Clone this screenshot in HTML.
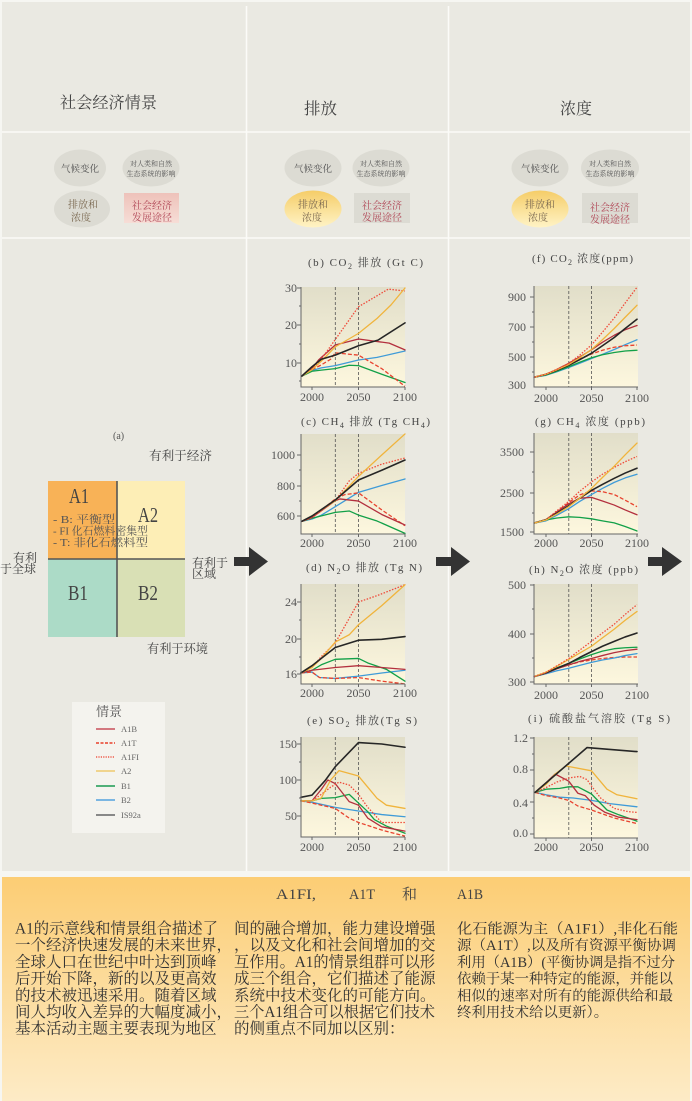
<!DOCTYPE html>
<html><head><meta charset="utf-8">
<style>
html,body{margin:0;padding:0;width:692px;height:1101px;overflow:hidden;background:#f6f6f2}
svg{display:block}
text{font-family:"Liberation Serif","Noto Serif CJK SC",serif}
.s{fill:none;vector-effect:non-scaling-stroke;stroke-width:1.3;stroke-linejoin:round;stroke-linecap:round}
.a1b{stroke:#b3303e}
.a1t{stroke:#e8432f;stroke-dasharray:4 2;stroke-linecap:butt}
.a1fi{stroke:#ef4a3a;stroke-dasharray:1.5 1.5;stroke-linecap:butt}
.a2{stroke:#f0b43c}
.b1{stroke:#12a048}
.b2{stroke:#3f9bd8}
.is{stroke:#262626;stroke-width:1.6}
.tl{font-size:12px;fill:#555}
.tt{font-size:11px;fill:#444}
.ax{stroke:#666;stroke-width:1;fill:none}
.dl{stroke:#555;stroke-width:0.8;stroke-dasharray:3 2}
.bt{font-size:15.5px;fill:#333}
</style></head>
<body>
<svg width="692" height="1101" viewBox="0 0 692 1101" xmlns="http://www.w3.org/2000/svg">
<defs>
<linearGradient id="pg" x1="0" y1="0" x2="0" y2="1"><stop offset="0" stop-color="#e1dec9"/><stop offset="1" stop-color="#fdf7de"/></linearGradient>
<linearGradient id="yg" x1="0" y1="0" x2="0" y2="1"><stop offset="0" stop-color="#f5cd68"/><stop offset="1" stop-color="#fff3c6"/></linearGradient>
<linearGradient id="pk" x1="0" y1="0" x2="0" y2="1"><stop offset="0" stop-color="#eec2ba"/><stop offset="1" stop-color="#f6ddd6"/></linearGradient>
<linearGradient id="og" x1="0" y1="0" x2="0" y2="1"><stop offset="0" stop-color="#fccd74"/><stop offset="1" stop-color="#fdebc6"/></linearGradient>
</defs>

<rect x="2" y="2" width="688" height="869" fill="#eae9e2"/>
<g stroke="#fbfbf8" stroke-width="1.6">
<line x1="246.5" y1="6" x2="246.5" y2="871"/>
<line x1="448.5" y1="6" x2="448.5" y2="871"/>
<line x1="2" y1="132" x2="690" y2="132"/>
<line x1="2" y1="238" x2="690" y2="238"/>
</g>

<text x="60" y="108" font-size="16" fill="#444" textLength="97" lengthAdjust="spacingAndGlyphs">社会经济情景</text>
<text x="304" y="114" font-size="16" fill="#444" textLength="33" lengthAdjust="spacingAndGlyphs">排放</text>
<text x="560" y="114" font-size="16" fill="#444" textLength="32" lengthAdjust="spacingAndGlyphs">浓度</text>

<g>
<ellipse cx="80" cy="168" rx="26" ry="18.5" fill="#dcdbd3"/>
<text x="80" y="172" font-size="9.5" fill="#555" text-anchor="middle">气候变化</text>
<ellipse cx="151" cy="168" rx="28.5" ry="18.5" fill="#dcdbd3"/>
<text x="151" y="166" font-size="7" fill="#555" text-anchor="middle">对人类和自然</text>
<text x="151" y="176" font-size="7" fill="#555" text-anchor="middle">生态系统的影响</text>
<ellipse cx="82" cy="209" rx="28" ry="18.5" fill="#dcdbd3"/>
<text x="83" y="208" font-size="10" fill="#7a6850" text-anchor="middle">排放和</text>
<text x="81" y="221" font-size="10" fill="#7a6850" text-anchor="middle">浓度</text>
<rect x="124" y="193" width="55" height="30" fill="url(#pk)"/>
<text x="152" y="209" font-size="10" fill="#b04555" text-anchor="middle">社会经济</text>
<text x="152" y="221" font-size="10" fill="#b04555" text-anchor="middle">发展途径</text>
</g>
<g>
<ellipse cx="313" cy="168" rx="28.5" ry="18.5" fill="#dcdbd3"/>
<text x="313" y="172" font-size="9.5" fill="#555" text-anchor="middle">气候变化</text>
<ellipse cx="381" cy="168" rx="28.5" ry="18.5" fill="#dcdbd3"/>
<text x="381" y="166" font-size="7" fill="#555" text-anchor="middle">对人类和自然</text>
<text x="381" y="176" font-size="7" fill="#555" text-anchor="middle">生态系统的影响</text>
<ellipse cx="313" cy="209" rx="28.5" ry="18.5" fill="url(#yg)"/>
<text x="313" y="208" font-size="10" fill="#7a6850" text-anchor="middle">排放和</text>
<text x="312" y="221" font-size="10" fill="#7a6850" text-anchor="middle">浓度</text>
<rect x="354" y="193" width="56" height="30" fill="#dcdbd3"/>
<text x="382" y="209" font-size="10" fill="#b04555" text-anchor="middle">社会经济</text>
<text x="382" y="221" font-size="10" fill="#b04555" text-anchor="middle">发展途径</text>
</g>
<g>
<ellipse cx="540" cy="168" rx="28.5" ry="18.5" fill="#dcdbd3"/>
<text x="540" y="172" font-size="9.5" fill="#555" text-anchor="middle">气候变化</text>
<ellipse cx="610" cy="168" rx="29" ry="18.5" fill="#dcdbd3"/>
<text x="610" y="166" font-size="7" fill="#555" text-anchor="middle">对人类和自然</text>
<text x="610" y="176" font-size="7" fill="#555" text-anchor="middle">生态系统的影响</text>
<ellipse cx="540" cy="209" rx="28.5" ry="18.5" fill="url(#yg)"/>
<text x="540" y="208" font-size="10" fill="#7a6850" text-anchor="middle">排放和</text>
<text x="538" y="221" font-size="10" fill="#7a6850" text-anchor="middle">浓度</text>
<rect x="582" y="193" width="56" height="30" fill="#dcdbd3"/>
<text x="610" y="211" font-size="10" fill="#b04555" text-anchor="middle">社会经济</text>
<text x="610" y="223" font-size="10" fill="#b04555" text-anchor="middle">发展途径</text>
</g>

<text x="113" y="439" font-size="10" fill="#555">(a)</text>
<text x="149" y="460" font-size="12.5" fill="#444" textLength="63" lengthAdjust="spacingAndGlyphs">有利于经济</text>
<rect x="48" y="481" width="69" height="78" fill="#f8b257"/>
<rect x="117" y="481" width="68" height="78" fill="#fdeeb6"/>
<rect x="48" y="559" width="69" height="78" fill="#acdbc7"/>
<rect x="117" y="559" width="68" height="78" fill="#d9e0b5"/>
<line x1="117" y1="481" x2="117" y2="637" stroke="#555" stroke-width="1.6"/>
<line x1="48" y1="559" x2="185" y2="559" stroke="#555" stroke-width="1.6"/>
<text x="69" y="503" font-size="21" fill="#444" textLength="20" lengthAdjust="spacingAndGlyphs">A1</text>
<text x="138" y="522" font-size="21" fill="#444" textLength="20" lengthAdjust="spacingAndGlyphs">A2</text>
<text x="68" y="600" font-size="21" fill="#444" textLength="20" lengthAdjust="spacingAndGlyphs">B1</text>
<text x="138" y="600" font-size="21" fill="#444" textLength="20" lengthAdjust="spacingAndGlyphs">B2</text>
<text x="53" y="523" font-size="11" fill="#555" textLength="62" lengthAdjust="spacingAndGlyphs">- B:  平衡型</text>
<text x="53" y="534.5" font-size="11" fill="#555" textLength="95" lengthAdjust="spacingAndGlyphs">- FI  化石燃料密集型</text>
<text x="53" y="546" font-size="11" fill="#555" textLength="95" lengthAdjust="spacingAndGlyphs">- T:  非化石燃料型</text>
<text x="13" y="562" font-size="12" fill="#444">有利</text>
<text x="0" y="573" font-size="12" fill="#444">于全球</text>
<text x="192" y="567" font-size="12" fill="#444">有利于</text>
<text x="192" y="578" font-size="12" fill="#444">区域</text>
<text x="147" y="653" font-size="12.5" fill="#444" textLength="61" lengthAdjust="spacingAndGlyphs">有利于环境</text>

<rect x="72" y="702" width="93" height="131" fill="#f4f3ee"/>
<text x="96" y="716" font-size="13" fill="#555">情景</text>
<g stroke-width="1.4">
<line x1="96" y1="729" x2="115" y2="729" stroke="#c8505a"/>
<line x1="96" y1="743" x2="115" y2="743" stroke="#e8402a" stroke-dasharray="3 1.5"/>
<line x1="96" y1="757" x2="115" y2="757" stroke="#ee5a4a" stroke-dasharray="1.2 1.2"/>
<line x1="96" y1="771" x2="115" y2="771" stroke="#f0d080" stroke-width="1.8"/>
<line x1="96" y1="786" x2="115" y2="786" stroke="#1a9a50"/>
<line x1="96" y1="800" x2="115" y2="800" stroke="#6aaee0" stroke-width="1.8"/>
<line x1="96" y1="815" x2="115" y2="815" stroke="#888" stroke-width="2"/>
</g>
<g font-size="8.5" fill="#666">
<text x="121" y="732">A1B</text>
<text x="121" y="746">A1T</text>
<text x="121" y="760">A1FI</text>
<text x="121" y="774">A2</text>
<text x="121" y="789">B1</text>
<text x="121" y="803">B2</text>
<text x="121" y="818">IS92a</text>
</g>

<g fill="#333">
<polygon points="234,557 249,557 249,547 268,561.5 249,576 249,566 234,566"/>
<polygon points="436,557 451,557 451,547 470,561.5 451,576 451,566 436,566"/>
<polygon points="648,557 662,557 662,547 682,561.5 662,576 662,566 648,566"/>
</g>

<!-- Chart b -->
<text class="tt" x="308" y="266" textLength="115" lengthAdjust="spacing">(b) CO<tspan font-size="8" dy="3">2</tspan><tspan dy="-3"> 排放 (Gt C)</tspan></text>
<rect x="301" y="287" width="104" height="100" fill="url(#pg)"/>
<line class="dl" x1="335.3" y1="287" x2="335.3" y2="387"/>
<line class="dl" x1="358.5" y1="287" x2="358.5" y2="387"/>
<g transform="translate(312,400.5) scale(0.93,-3.75)">
<polyline class="s b2" points="-11,6.5 0,8 10,8.7 25,9.3 50,10.8 70,11.5 100,13.2"/>
<polyline class="s b1" points="-11,6.5 0,7.8 10,8.1 25,8.5 40,9.4 50,9.3 75,7 100,4.8"/>
<polyline class="s a1t" points="-11,6.5 0,8.2 10,9.5 20,11 25,12.7 50,12.1 75,8.5 100,3.8"/>
<polyline class="s a1b" points="-11,6.5 0,8.5 7,10.8 25,14.8 50,16.4 83,15.3 100,13.5"/>
<polyline class="s a1fi" points="-11,6.5 0,8.5 10,11 20,14.5 30,18 50,25 82,29.7 100,29.2"/>
<polyline class="s a2" points="-11,6.5 0,8.2 10,10.5 25,14.3 50,17.9 70,21.9 85,25.5 100,30"/>
<polyline class="s is" points="-11,6.5 0,9 10,11 25,12.1 50,14.6 71,16.1 100,20.7"/>
</g>
<path class="ax" d="M301,287V387H405"/>
<path class="ax" d="M297,288h4M297,325h4M297,363h4M299,306h2M299,344h2M299,381h2M312,387v3M358.5,387v3M405,387v3"/>
<g class="tl" text-anchor="end"><text x="297" y="292">30</text><text x="297" y="329">20</text><text x="297" y="367">10</text></g>
<g class="tl" text-anchor="middle"><text x="312" y="401">2000</text><text x="358.5" y="401">2050</text><text x="405" y="401">2100</text></g>

<!-- Chart c -->
<text class="tt" x="301" y="425" textLength="129" lengthAdjust="spacing">(c) CH<tspan font-size="8" dy="3">4</tspan><tspan dy="-3"> 排放 (Tg CH</tspan><tspan font-size="8" dy="3">4</tspan><tspan dy="-3">)</tspan></text>
<rect x="301" y="434" width="104" height="100" fill="url(#pg)"/>
<line class="dl" x1="335.3" y1="434" x2="335.3" y2="534"/>
<line class="dl" x1="358.5" y1="434" x2="358.5" y2="534"/>
<g transform="translate(312,607.5) scale(0.93,-0.1525)">
<polyline class="s b2" points="-11,565 0,580 10,605 25,661 50,755 75,800 100,843"/>
<polyline class="s b1" points="-11,565 0,585 25,624 40,633 50,606 70,567 100,486"/>
<polyline class="s a1t" points="-11,565 0,590 25,711 35,740 50,752 75,640 100,536"/>
<polyline class="s a1b" points="-11,565 0,590 25,700 30,712 50,698 75,610 100,541"/>
<polyline class="s a1fi" points="-11,565 0,590 25,700 40,830 50,880 75,940 100,980"/>
<polyline class="s a2" points="-11,565 0,600 25,700 50,860 75,1000 100,1138"/>
<polyline class="s is" points="-11,565 0,600 25,705 50,836 75,900 100,967"/>
</g>
<path class="ax" d="M301,434V534H405"/>
<path class="ax" d="M297,455h4M297,486h4M297,516h4M299,470h2M299,501h2M312,534v3M358.5,534v3M405,534v3"/>
<g class="tl" text-anchor="end"><text x="295" y="459">1000</text><text x="295" y="490">800</text><text x="295" y="520">600</text></g>
<g class="tl" text-anchor="middle"><text x="312" y="547">2000</text><text x="358.5" y="547">2050</text><text x="405" y="547">2100</text></g>

<!-- Chart d -->
<text class="tt" x="306" y="571" textLength="116" lengthAdjust="spacing">(d) N<tspan font-size="8" dy="3">2</tspan><tspan dy="-3">O 排放 (Tg N)</tspan></text>
<rect x="301" y="584" width="104" height="100" fill="url(#pg)"/>
<line class="dl" x1="335.3" y1="584" x2="335.3" y2="684"/>
<line class="dl" x1="358.5" y1="584" x2="358.5" y2="684"/>
<g transform="translate(312,820.4) scale(0.93,-9.1)">
<polyline class="s b2" points="-12,16.2 0,16.3 8,15.7 25,15.6 50,15.85 75,16.2 100,16.5"/>
<polyline class="s b1" points="-12,16.2 0,16.5 10,17.1 25,17.7 50,17.8 60,17.3 80,16.6 100,15.3"/>
<polyline class="s a1t" points="-12,16.2 0,16.3 8,15.7 25,15.6 50,15.7 75,15.3 100,15.0"/>
<polyline class="s a1b" points="-12,16.2 0,16.5 25,16.8 50,17 75,16.8 100,16.6"/>
<polyline class="s a1fi" points="-12,16.2 0,16.8 10,18 25,19.5 50,24 70,24.7 100,25.9"/>
<polyline class="s a2" points="-12,16.2 0,16.8 10,17.8 25,19.6 40,20.4 50,21.5 75,23.6 100,25.9"/>
<polyline class="s is" points="-12,16.2 0,17 10,17.8 25,19 50,19.8 75,19.9 100,20.2"/>
</g>
<path class="ax" d="M301,584V684H405"/>
<path class="ax" d="M297,602h4M297,639h4M297,674h4M299,620h2M299,657h2M312,684v3M358.5,684v3M405,684v3"/>
<g class="tl" text-anchor="end"><text x="297" y="606">24</text><text x="297" y="643">20</text><text x="297" y="678">16</text></g>
<g class="tl" text-anchor="middle"><text x="312" y="697">2000</text><text x="358.5" y="697">2050</text><text x="405" y="697">2100</text></g>

<!-- Chart e -->
<text class="tt" x="307" y="724" textLength="110" lengthAdjust="spacing">(e) SO<tspan font-size="8" dy="3">2</tspan><tspan dy="-3"> 排放(Tg S)</tspan></text>
<rect x="301" y="737" width="104" height="100" fill="url(#pg)"/>
<line class="dl" x1="335.3" y1="737" x2="335.3" y2="837"/>
<line class="dl" x1="358.5" y1="737" x2="358.5" y2="837"/>
<g transform="translate(312,852) scale(0.93,-0.72)">
<polyline class="s b2" points="-12,71 0,69 25,62 50,57 75,52 100,49"/>
<polyline class="s b1" points="-12,71 0,71 10,74.5 25,75.5 40,80 50,68 60,56 67,45 80,36 100,26"/>
<polyline class="s a1t" points="-12,71 0,68 10,65 25,60.5 40,47 50,41 75,30.5 100,22"/>
<polyline class="s a1b" points="-12,71 0,71 10,87 17,100 25,95 40,70 50,65 60,47 75,35 100,29"/>
<polyline class="s a1fi" points="-12,71 0,71 10,80 20,90 29,97 40,93 50,80 60,62 75,41 100,41"/>
<polyline class="s a2" points="-12,71 0,71 10,75 20,100 29,113 50,105.5 60,90 70,74.5 80,65 100,60.5"/>
<polyline class="s is" points="-12,76 0,79 14,99 25,118.5 50,152 75,150 100,145.5"/>
</g>
<path class="ax" d="M301,737V837H405"/>
<path class="ax" d="M297,744h4M297,780h4M297,816h4M299,762h2M299,798h2M312,837v3M358.5,837v3M405,837v3"/>
<g class="tl" text-anchor="end"><text x="297" y="748">150</text><text x="297" y="784">100</text><text x="297" y="820">50</text></g>
<g class="tl" text-anchor="middle"><text x="312" y="851">2000</text><text x="358.5" y="851">2050</text><text x="405" y="851">2100</text></g>

<!-- Chart f -->
<text class="tt" x="532" y="262" textLength="101" lengthAdjust="spacing">(f) CO<tspan font-size="8" dy="3">2</tspan><tspan dy="-3"> 浓度(ppm)</tspan></text>
<rect x="534" y="286" width="104" height="101" fill="url(#pg)"/>
<line class="dl" x1="568.8" y1="286" x2="568.8" y2="387"/>
<line class="dl" x1="591.5" y1="286" x2="591.5" y2="387"/>
<g transform="translate(546,432) scale(0.91,-0.15)">
<polyline class="s b2" points="-13,365 0,378 12,402 25,430 37,458 50,490 62,518 75,550 87,582 100,615"/>
<polyline class="s b1" points="-13,365 0,380 12,405 25,435 37,465 50,495 62,515 75,530 87,540 100,545"/>
<polyline class="s a1t" points="-13,365 0,385 12,415 25,450 37,487 50,520 62,545 75,565 87,575 100,580"/>
<polyline class="s a1b" points="-13,365 0,385 12,418 25,458 37,500 50,548 62,598 75,645 87,682 100,710"/>
<polyline class="s is" points="-13,365 0,385 12,412 25,445 37,482 50,525 62,575 75,630 87,690 100,752"/>
<polyline class="s a2" points="-13,365 0,385 12,415 25,450 37,495 50,550 62,615 75,690 87,765 100,845"/>
<polyline class="s a1fi" points="-13,365 0,385 12,418 25,458 37,512 50,580 62,665 75,760 87,860 100,965"/>
</g>
<path class="ax" d="M534,286V387H638"/>
<path class="ax" d="M530,297h4M530,327h4M530,357h4M532,312h2M532,342h2M532,372h2M546,387v3M591.5,387v3M637,387v3"/>
<g class="tl" text-anchor="end"><text x="526" y="301">900</text><text x="526" y="331">700</text><text x="526" y="361">500</text><text x="526" y="389">300</text></g>
<g class="tl" text-anchor="middle"><text x="546" y="402">2000</text><text x="591.5" y="402">2050</text><text x="637" y="402">2100</text></g>

<!-- Chart g -->
<text class="tt" x="535" y="425" textLength="110" lengthAdjust="spacing">(g) CH<tspan font-size="8" dy="3">4</tspan><tspan dy="-3"> 浓度 (ppb)</tspan></text>
<rect x="534" y="433" width="104" height="101" fill="url(#pg)"/>
<line class="dl" x1="568.8" y1="433" x2="568.8" y2="534"/>
<line class="dl" x1="591.5" y1="433" x2="591.5" y2="534"/>
<g transform="translate(546,593.75) scale(0.91,-0.0405)">
<polyline class="s b2" points="-13,1745 0,1800 12,1940 25,2100 37,2280 50,2450 62,2600 75,2750 87,2860 100,2950"/>
<polyline class="s b1" points="-13,1745 0,1820 12,1870 25,1900 37,1885 50,1850 62,1800 75,1750 87,1660 100,1550"/>
<polyline class="s a1t" points="-13,1745 0,1830 12,2030 25,2250 37,2440 50,2540 62,2520 75,2450 87,2310 100,2150"/>
<polyline class="s a1b" points="-13,1745 0,1830 12,2020 25,2220 37,2360 50,2380 62,2290 75,2190 87,2070 100,1950"/>
<polyline class="s is" points="-13,1745 0,1830 12,1990 25,2170 37,2360 50,2550 62,2700 75,2850 87,2980 100,3100"/>
<polyline class="s a1fi" points="-13,1745 0,1830 12,2050 25,2280 37,2530 50,2760 62,2950 75,3120 87,3260 100,3390"/>
<polyline class="s a2" points="-13,1745 0,1820 12,1970 25,2150 37,2360 50,2600 62,2870 75,3150 87,3430 100,3720"/>
</g>
<path class="ax" d="M534,433V534H638"/>
<path class="ax" d="M530,452h4M530,493h4M530,532h4M532,472h2M532,513h2M546,534v3M591.5,534v3M637,534v3"/>
<g class="tl" text-anchor="end"><text x="524" y="456">3500</text><text x="524" y="497">2500</text><text x="524" y="536">1500</text></g>
<g class="tl" text-anchor="middle"><text x="546" y="547">2000</text><text x="591.5" y="547">2050</text><text x="637" y="547">2100</text></g>

<!-- Chart h -->
<text class="tt" x="529" y="573" textLength="109" lengthAdjust="spacing">(h) N<tspan font-size="8" dy="3">2</tspan><tspan dy="-3">O 浓度 (ppb)</tspan></text>
<rect x="534" y="584" width="104" height="100" fill="url(#pg)"/>
<line class="dl" x1="568.8" y1="584" x2="568.8" y2="684"/>
<line class="dl" x1="591.5" y1="584" x2="591.5" y2="684"/>
<g transform="translate(546,830) scale(0.91,-0.49)">
<polyline class="s a1t" points="-13,313 0,321 12,330 25,337 37,343 50,347 62,350 75,352 87,353 100,353"/>
<polyline class="s b2" points="-13,313 0,319 12,325 25,330 37,336 50,342 62,347 75,351 87,356 100,360"/>
<polyline class="s a1b" points="-13,313 0,320 12,329 25,337 37,344 50,350 62,356 75,362 87,366 100,369"/>
<polyline class="s b1" points="-13,313 0,321 12,331 25,340 37,349 50,358 62,365 75,370 87,372 100,373"/>
<polyline class="s is" points="-13,313 0,321 12,330 25,340 37,352 50,364 62,375 75,385 87,394 100,402"/>
<polyline class="s a2" points="-13,313 0,322 12,334 25,348 37,361 50,375 62,392 75,410 87,428 100,446"/>
<polyline class="s a1fi" points="-13,313 0,322 12,335 25,350 37,367 50,385 62,402 75,420 87,440 100,460"/>
</g>
<path class="ax" d="M534,584V684H638"/>
<path class="ax" d="M530,585h4M530,634h4M530,682h4M532,609h2M532,658h2M546,684v3M591.5,684v3M637,684v3"/>
<g class="tl" text-anchor="end"><text x="526" y="589">500</text><text x="526" y="638">400</text><text x="526" y="686">300</text></g>
<g class="tl" text-anchor="middle"><text x="546" y="699">2000</text><text x="591.5" y="699">2050</text><text x="637" y="699">2100</text></g>

<!-- Chart i -->
<text class="tt" x="528" y="722" textLength="142" lengthAdjust="spacing">(i) 硫酸盐气溶胶 (Tg S)</text>
<rect x="534" y="737" width="104" height="101" fill="url(#pg)"/>
<line class="dl" x1="568.8" y1="737" x2="568.8" y2="838"/>
<line class="dl" x1="591.5" y1="737" x2="591.5" y2="838"/>
<g transform="translate(546,834) scale(0.91,-80)">
<polyline class="s b2" points="-12,0.52 0,0.49 15,0.46 30,0.45 50,0.42 70,0.38 100,0.34"/>
<polyline class="s a1t" points="-12,0.52 0,0.48 15,0.45 25,0.42 35,0.35 50,0.3 75,0.2 100,0.13"/>
<polyline class="s b1" points="-12,0.52 0,0.56 15,0.57 25,0.59 35,0.59 50,0.5 67,0.3 80,0.24 100,0.16"/>
<polyline class="s a1b" points="-12,0.52 0,0.64 10,0.75 25,0.66 35,0.51 43,0.48 53,0.36 65,0.27 80,0.21 100,0.18"/>
<polyline class="s a1fi" points="-12,0.52 0,0.58 12,0.65 25,0.70 37,0.72 45,0.68 50,0.6 60,0.45 75,0.32 90,0.28 100,0.27"/>
<polyline class="s a2" points="-12,0.52 0,0.62 10,0.75 22,0.85 50,0.79 67,0.56 78,0.49 100,0.44"/>
<polyline class="s is" points="-12,0.52 45,1.08 100,1.03"/>
</g>
<path class="ax" d="M534,737V838H638"/>
<path class="ax" d="M530,738h4M530,770h4M530,802h4M530,834h4M532,754h2M532,786h2M532,818h2M546,838v3M591.5,838v3M637,838v3"/>
<g class="tl" text-anchor="end"><text x="528" y="742">1.2</text><text x="528" y="773">0.8</text><text x="528" y="807">0.4</text><text x="528" y="837">0.0</text></g>
<g class="tl" text-anchor="middle"><text x="546" y="851">2000</text><text x="591.5" y="851">2050</text><text x="637" y="851">2100</text></g>

<!-- bottom panel -->
<rect x="2" y="877" width="688" height="224" fill="url(#og)"/>
<g font-size="15" fill="#444">
<text x="276" y="899" textLength="40" lengthAdjust="spacingAndGlyphs">A1FI,</text>
<text x="349" y="899" textLength="26" lengthAdjust="spacingAndGlyphs">A1T</text>
<text x="402" y="899">和</text>
<text x="457" y="899" textLength="26" lengthAdjust="spacingAndGlyphs">A1B</text>
</g>
<g class="bt">
<text x="15" y="933.5" textLength="203" lengthAdjust="spacingAndGlyphs">A1的示意线和情景组合描述了</text>
<text x="15" y="950.2">一个经济快速发展的未来世界，</text>
<text x="15" y="966.9">全球人口在世纪中叶达到顶峰</text>
<text x="15" y="983.6">后开始下降，新的以及更高效</text>
<text x="15" y="1000.3">的技术被迅速采用。随着区域</text>
<text x="15" y="1017">间人均收入差异的大幅度减小，</text>
<text x="15" y="1033.7">基本活动主题主要表现为地区</text>

<text x="234" y="933.5">间的融合增加，能力建设增强</text>
<text x="234" y="950.2">，以及文化和社会间增加的交</text>
<text x="234" y="966.9" textLength="201" lengthAdjust="spacingAndGlyphs">互作用。A1的情景组群可以形</text>
<text x="234" y="983.6">成三个组合，它们描述了能源</text>
<text x="234" y="1000.3">系统中技术变化的可能方向。</text>
<text x="234" y="1017" textLength="201" lengthAdjust="spacingAndGlyphs">三个A1组合可以根据它们技术</text>
<text x="234" y="1033.7">的侧重点不同加以区别：</text>
</g>
<g font-size="14.4" fill="#333">
<text x="457" y="933.5" textLength="221" lengthAdjust="spacingAndGlyphs">化石能源为主（A1F1）,非化石能</text>
<text x="457" y="950.2" textLength="219" lengthAdjust="spacingAndGlyphs">源（A1T）,以及所有资源平衡协调</text>
<text x="457" y="966.9" textLength="218" lengthAdjust="spacingAndGlyphs">利用（A1B）(平衡协调是指不过分</text>
<text x="457" y="983.6" textLength="216" lengthAdjust="spacingAndGlyphs">依赖于某一种特定的能源，并能以</text>
<text x="457" y="1000.3" textLength="216" lengthAdjust="spacingAndGlyphs">相似的速率对所有的能源供给和最</text>
<text x="457" y="1017">终利用技术给以更新）。</text>
</g>
</svg>
</body></html>
